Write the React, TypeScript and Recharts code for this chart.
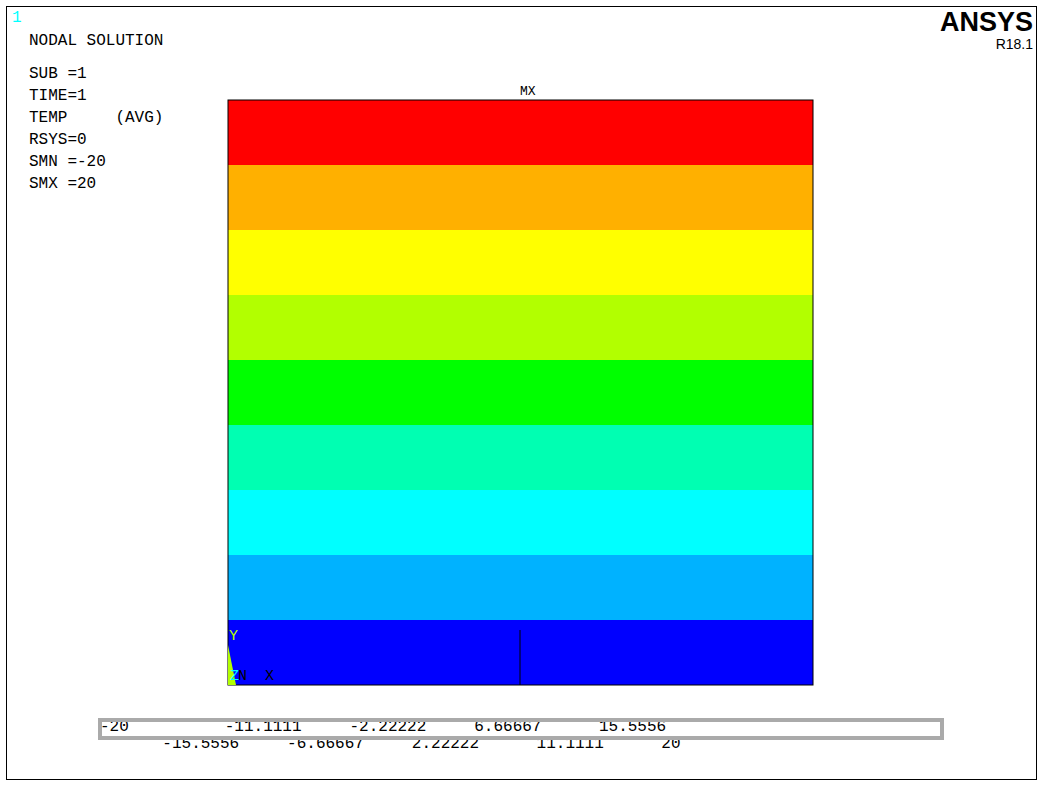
import React from 'react';
import { BarChart, Bar, XAxis, YAxis } from 'recharts';

// Contour bands, bottom (-20) to top (20)
const bandColors = ['#0000FF', '#00B2FF', '#00FFFF', '#00FFB2', '#00FF00', '#B2FF00', '#FFFF00', '#FFB000', '#FF0000'];
const bandKeys = bandColors.map((_, i) => `b${i}`);
const step = 40 / 9;
const legendTicks = [-20, -15.5556, -11.1111, -6.66667, -2.22222, 2.22222, 6.66667, 11.1111, 15.5556, 20];
const infoLines = ['SUB =1', 'TIME=1', 'TEMP     (AVG)', 'RSYS=0', 'SMN =-20', 'SMX =20'];

const row: Record<string, any> = { name: 'model' };
bandKeys.forEach((k) => (row[k] = step));
const bandData = [row];

const mono = '"Liberation Mono", "DejaVu Sans Mono", monospace';

const LegendTick = (props: any) => {
  const { x, y, payload, index } = props;
  const dy = index % 2 === 0 ? 15 : 32;
  return (
    <text x={x} y={y + dy} textAnchor="start" fontFamily={mono} fontSize={16} fill="#000">
      {legendTicks[index]}
    </text>
  );
};

export default function App() {
  return (
    <div style={{ position: 'relative', width: 1043, height: 788, background: '#fff', fontFamily: mono }}>
      <style>{'body{margin:0}'}</style>
      <div style={{ position: 'absolute', left: 6, top: 6, width: 1029, height: 772, border: '1px solid #000' }} />
      <div style={{ position: 'absolute', left: 0, top: 0 }}>
        <BarChart width={1043} height={788} data={bandData} margin={{ left: 228, right: 230, top: 100, bottom: 103 }} barCategoryGap={0}>
          <XAxis dataKey="name" hide />
          <YAxis hide domain={[0, 40]} />
          {bandKeys.map((k, i) => (
            <Bar key={k} dataKey={k} stackId="a" fill={bandColors[i]} isAnimationActive={false} />
          ))}
        </BarChart>
      </div>
      <div style={{ position: 'absolute', left: 0, top: 0 }}>
        <BarChart width={1043} height={788} data={bandData} layout="vertical" margin={{ left: 100, right: 101, top: 720, bottom: 50 }} barCategoryGap={0}>
          <YAxis type="category" dataKey="name" hide />
          <XAxis type="number" domain={[-20, 20]} ticks={legendTicks} axisLine={false} tickLine={false} tick={<LegendTick />} interval={0} />
          {bandKeys.map((k, i) => (
            <Bar key={k} dataKey={k} stackId="a" fill={bandColors[i]} isAnimationActive={false} />
          ))}
        </BarChart>
      </div>
      <svg width={1043} height={788} style={{ position: 'absolute', left: 0, top: 0 }}>
        <rect x={100} y={720} width={842} height={18} fill="none" stroke="#aaa" strokeWidth={4} />
        <rect x={228} y={100} width={585} height={585} fill="none" stroke="#000" strokeWidth={1} />
        <line x1={520} y1={630} x2={520} y2={685} stroke="#000" />
        <polygon points="228,645 236,685 228,685" fill="#B2FF00" />
        <text x={12} y={22} fill="#00FFFF" fontFamily={mono} fontSize={16}>1</text>
        <text x={29} y={45} fontFamily={mono} fontSize={16}>NODAL SOLUTION</text>
        {infoLines.map((t, i) => (
          <text key={i} x={29} y={78 + i * 22} fontFamily={mono} fontSize={16} xmlSpace="preserve">{t}</text>
        ))}
        <text x={1033} y={31} textAnchor="end" fontFamily="'Liberation Sans', Arial" fontWeight="bold" fontSize={27}>ANSYS</text>
        <text x={1033} y={49} textAnchor="end" fontFamily="'Liberation Sans', Arial" fontSize={14}>R18.1</text>
        <text x={520} y={95} fontFamily={mono} fontSize={13}>MX</text>
        <text x={229} y={640} fill="#B2FF00" fontFamily={mono} fontSize={15}>Y</text>
        <text x={230} y={680} fill="#00FFFF" fontFamily={mono} fontSize={15}>Z</text>
        <text x={238} y={680} fontFamily={mono} fontSize={15}>N</text>
        <text x={265} y={680} fontFamily={mono} fontSize={15}>X</text>
      </svg>
    </div>
  );
}
